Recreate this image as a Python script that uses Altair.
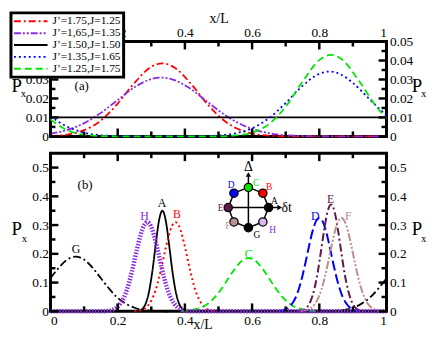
import altair as alt
import pandas as pd

FONT = "Liberation Serif"
W, HA, HB = 340, 96, 160

# ---------------- panel (a) data ----------------
a_series = ["J’=1.75,J=1.25", "J’=1,65,J=1.35", "J’=1.50,J=1.50", "J’=1.35,J=1.65", "J’=1.25,J=1.75"]
a_colors = ["#ff0000", "#8a2be2", "#000000", "#0000ff", "#00e600"]
a_dash = [[7, 3, 2, 3], [7, 2, 2, 2, 2, 2], [1, 0], [2, 3], [7, 4]]

a_red_x = [0, .05, .10, .15, .20, .25, .30, .333, .37, .42, .47, .52, .57, .62, .67, .75, 1.0]
a_red_y = [.0003, .001, .0033, .0084, .0173, .0282, .0367, .0385, .0362, .0273, .0164, .0079, .003, .0009, .0002, 0, 0]
a_pur_x = [0, .05, .10, .15, .20, .25, .30, .33, .36, .41, .46, .51, .56, .61, .66, .71, .80, 1.0]
a_pur_y = [.0014, .0034, .0070, .0124, .0192, .0259, .0302, .031, .0302, .0259, .0192, .0124, .0070, .0034, .0014, .0005, .0001, 0]
a_blk_x = [0, 1.0]
a_blk_y = [.01, .01]
a_blu_x = [0, .05, .10, .15, .20, .30, .45, .50, .55, .60, .65, .70, .75, .80, .83, .86, .90, .95, 1.0]
a_blu_y = [.0105, .0051, .0020, .0006, .0002, 0, 0, .0005, .0016, .0043, .0096, .0176, .0266, .033, .0342, .033, .0282, .0195, .011]
a_grn_x = [0, .05, .10, .15, .25, .50, .55, .60, .65, .70, .75, .80, .835, .87, .92, .97, 1.0]
a_grn_y = [.009, .0033, .0009, .0002, 0, 0, .0005, .002, .0065, .0157, .0288, .0402, .043, .0402, .0288, .0157, .0095]

a_tag_text = ["(a)"]
a_tag_x = [0.093]
a_tag_y = [0.0265]

x_major = [0, 0.2, 0.4, 0.6, 0.8, 1.0]
x_minor = [0.1, 0.3, 0.5, 0.7, 0.9]
a_y_major = [0, 0.01, 0.02, 0.03, 0.04, 0.05]
a_y_minor = [0.005, 0.015, 0.025, 0.035, 0.045]

# ---------------- panel (b) data ----------------
b_G1_x = [0, .025, .05, .075, .10, .125, .15, .175, .20, .225, .25, .275, .30, .35]
b_G1_y = [.115, .152, .18, .19, .18, .152, .115, .078, .047, .026, .0125, .005, .002, 0]
b_G2_x = [.82, .85, .875, .90, .925, .95, .975, 1.0]
b_G2_y = [0, .002, .005, .0125, .026, .047, .078, .115]
b_A_x = [.253, .263, .273, .283, .293, .303, .313, .323, .333, .343, .353, .363, .373, .383, .393, .403, .413]
b_A_y = [0, .002, .008, .026, .067, .138, .231, .316, .35, .316, .231, .138, .067, .026, .008, .002, 0]
b_B_x = [.25, .272, .282, .292, .302, .312, .322, .332, .342, .352, .362, .372, .382, .392, .402, .412, .422, .432, .442, .452, .462, .472, .49]
b_B_y = [0, .005, .011, .023, .042, .071, .112, .161, .215, .263, .298, .31, .298, .263, .215, .161, .112, .071, .042, .023, .011, .005, 0]
b_C_x = [.39, .41, .43, .45, .47, .49, .51, .53, .55, .57, .59, .61, .63, .65, .67, .69, .71, .73, .75, .77, .79]
b_C_y = [.001, .003, .007, .014, .028, .050, .080, .116, .150, .176, .185, .176, .150, .116, .080, .050, .028, .014, .007, .003, .001]
b_D_x = [.68, .70, .71, .72, .73, .74, .75, .76, .77, .78, .79, .80, .81, .82, .83, .84, .85, .86, .87, .88, .89, .90, .92]
b_D_y = [.001, .007, .014, .028, .049, .081, .124, .175, .230, .279, .313, .325, .313, .279, .230, .175, .124, .081, .049, .028, .014, .007, .001]
b_E_x = [.735, .755, .765, .775, .785, .795, .805, .815, .825, .835, .845, .855, .865, .875, .885, .895, .905, .915, .935]
b_E_y = [0, .006, .016, .038, .076, .134, .209, .287, .349, .372, .349, .287, .209, .134, .076, .038, .016, .006, 0]
b_F_x = [.746, .766, .776, .786, .796, .806, .816, .826, .836, .846, .856, .866, .876, .886, .896, .906, .916, .926, .936, .946, .956, .966, .986]
b_F_y = [.001, .006, .012, .024, .044, .075, .117, .169, .225, .276, .312, .325, .312, .276, .225, .169, .117, .075, .044, .024, .012, .006, .001]
b_H_x = [0, .15, .168, .188, .198, .208, .218, .228, .238, .248, .258, .268, .278, .288, .298, .308, .318, .328, .338, .348, .358, .368, .378, .388, .408, .43, 1.0]
b_H_y = [0, 0, .001, .007, .014, .027, .047, .077, .118, .167, .219, .265, .298, .31, .298, .265, .219, .167, .118, .077, .047, .027, .014, .007, .001, 0, 0]

b_lab_text = ["A", "B", "C", "D", "E", "F", "G", "H"]
b_lab_x = [0.332, 0.376, 0.59, 0.788, 0.834, 0.886, 0.076, 0.28]
b_lab_y = [0.375, 0.338, 0.198, 0.333, 0.39, 0.333, 0.216, 0.33]
b_lab_color = ["#000000", "#ff0000", "#00e600", "#0000ff", "#5e1a48", "#bc8f8f", "#000000", "#8a2be2"]
b_tag_text = ["(b)"]
b_tag_x = [0.103]
b_tag_y = [0.44]

b_y_major = [0, 0.1, 0.2, 0.3, 0.4, 0.5]
b_y_minor = [0.05, 0.15, 0.25, 0.35, 0.45]

# inset (phase diagram) in panel (b) data units
ins_name = ["A", "B", "C", "D", "E", "F", "G", "H"]
ins_x = [0.649, 0.632, 0.589, 0.546, 0.529, 0.546, 0.589, 0.632]
ins_y = [0.361, 0.411, 0.431, 0.411, 0.361, 0.311, 0.291, 0.311]
ins_fill = ["#000000", "#ff0000", "#00e600", "#0000ff", "#5e1a48", "#bc8f8f", "#000000", "#d9b8f0"]
ins_lab_x = [0.666, 0.651, 0.612, 0.538, 0.506, 0.528, 0.614, 0.661]
ins_lab_y = [0.384, 0.432, 0.447, 0.438, 0.361, 0.298, 0.267, 0.284]
ins_axis_x = [0.589, 0.529]
ins_axis_y = [0.291, 0.361]
ins_axis_x2 = [0.589, 0.676]
ins_axis_y2 = [0.470, 0.361]
ins_head_x = [0.589, 0.682]
ins_head_y = [0.476, 0.361]
ins_head_shape = ["triangle-up", "triangle-right"]
ins_sym_text = ["Δ", "δt"]
ins_sym_x = [0.589, 0.703]
ins_sym_y = [0.502, 0.361]


def ticks(xs, ys, xax, yax, yax_r, ymaj, ymin, H):
    main, right = [], []
    for vals, L in ((x_major, 8), (x_minor, 5)):
        base = alt.Chart(pd.DataFrame({"v": vals})).mark_rule(color="black", strokeWidth=2.5)
        main.append(base.encode(x=alt.X("v:Q", scale=xs, axis=xax), y=alt.value(0), y2=alt.value(L)))
        main.append(base.encode(x=alt.X("v:Q", scale=xs, axis=xax), y=alt.value(H), y2=alt.value(H - L)))
    for vals, L in ((ymaj, 8), (ymin, 5)):
        base = alt.Chart(pd.DataFrame({"v": vals})).mark_rule(color="black", strokeWidth=2.5)
        main.append(base.encode(y=alt.Y("v:Q", scale=ys, axis=yax), x=alt.value(0), x2=alt.value(L)))
        right.append(base.encode(y=alt.Y("v:Q", scale=ys, axis=yax_r), x=alt.value(W), x2=alt.value(W - L)))
    return main, right


def sub_x(xp, yp):
    return alt.Chart(pd.DataFrame({"t": ["x"]})).mark_text(
        font=FONT, fontSize=11, align="left", baseline="alphabetic", color="black"
    ).encode(text="t:N", x=alt.value(xp), y=alt.value(yp))


common_ax = dict(ticks=False, domain=False, grid=False, format="~g", labelFontSize=13.5,
                 labelFont=FONT, titleFont=FONT, titleFontWeight="normal", labelColor="black",
                 titleColor="black")

# ---------------- panel (a) ----------------
xs_a = alt.Scale(domain=[0, 1], nice=False)
ys_a = alt.Scale(domain=[0, 0.05], nice=False)
xax_a = alt.Axis(orient="top", values=x_major, title="x/L", titleFontSize=14, titlePadding=0,
                 labelPadding=2, **common_ax)
yax_a = alt.Axis(orient="left", values=a_y_major, title="P", titleAngle=0, titleX=-40, titleY=51,
                 titleAlign="left", titleBaseline="alphabetic", titleFontSize=19, labelPadding=2, **common_ax)
yax_a_r = alt.Axis(orient="right", values=a_y_major, title="P", titleAngle=0, titleX=25, titleY=51,
                   titleAlign="left", titleBaseline="alphabetic", titleFontSize=19, labelPadding=3, **common_ax)

rows = []
for name, xx, yy in zip(a_series, [a_red_x, a_pur_x, a_blk_x, a_blu_x, a_grn_x],
                        [a_red_y, a_pur_y, a_blk_y, a_blu_y, a_grn_y]):
    for x, y in zip(xx, yy):
        rows.append({"x": x, "y": y, "series": name})
df_a = pd.DataFrame(rows)

leg = alt.Legend(title=None, orient="none", legendX=-40, legendY=-29, fillColor="white",
                 strokeColor="black", padding=3, symbolType="M-2,0H2", symbolSize=289,
                 symbolStrokeWidth=2, symbolOffset=7.5, labelFont=FONT, labelFontSize=11.5,
                 labelColor="black", labelOffset=12.5, clipHeight=11, rowPadding=0, zindex=1)

lines_a = alt.Chart(df_a).mark_line(strokeWidth=1.8, interpolate="monotone").encode(
    x=alt.X("x:Q", scale=xs_a, axis=xax_a),
    y=alt.Y("y:Q", scale=ys_a, axis=yax_a),
    color=alt.Color("series:N", scale=alt.Scale(domain=a_series, range=a_colors), legend=leg),
    strokeDash=alt.StrokeDash("series:N", scale=alt.Scale(domain=a_series, range=a_dash), legend=leg),
)
tag_a = alt.Chart(pd.DataFrame({"t": a_tag_text, "x": a_tag_x, "y": a_tag_y})).mark_text(
    font=FONT, fontSize=13, color="black").encode(
    x=alt.X("x:Q", scale=xs_a, axis=xax_a), y=alt.Y("y:Q", scale=ys_a, axis=yax_a), text="t:N")

tm_a, tr_a = ticks(xs_a, ys_a, xax_a, yax_a, yax_a_r, a_y_major, a_y_minor, HA)
panel_a = alt.layer(
    alt.layer(lines_a, tag_a, *tm_a, sub_x(-30, 56)),
    alt.layer(*tr_a, sub_x(W + 35, 56)),
).resolve_scale(y="independent").properties(width=W, height=HA)

# ---------------- panel (b) ----------------
xs_b = alt.Scale(domain=[0, 1], nice=False)
ys_b = alt.Scale(domain=[0, 0.55], nice=False)
xax_b = alt.Axis(orient="bottom", values=x_major, title="x/L", titleFontSize=14, titleX=154, titleY=17,
                 titleBaseline="alphabetic", labelPadding=2, **common_ax)
yax_b = alt.Axis(orient="left", values=b_y_major, title="P", titleAngle=0, titleX=-40, titleY=82,
                 titleAlign="left", titleBaseline="alphabetic", titleFontSize=19, labelPadding=2, **common_ax)
yax_b_r = alt.Axis(orient="right", values=b_y_major, title="P", titleAngle=0, titleX=25, titleY=82,
                   titleAlign="left", titleBaseline="alphabetic", titleFontSize=19, labelPadding=3, **common_ax)

X = lambda f="x": alt.X(f + ":Q", scale=xs_b, axis=xax_b)
Y = lambda f="y": alt.Y(f + ":Q", scale=ys_b, axis=yax_b)

curves = [
    ([b_G1_x, b_G2_x], [b_G1_y, b_G2_y], "#000000", [8, 3, 2, 3], 1.8),
    ([b_A_x], [b_A_y], "#000000", [1, 0], 1.8),
    ([b_B_x], [b_B_y], "#ff0000", [2, 3], 2),
    ([b_C_x], [b_C_y], "#00e600", [7, 4], 1.8),
    ([b_D_x], [b_D_y], "#0000ff", [10, 4], 2),
    ([b_E_x], [b_E_y], "#5e1a48", [8, 3, 2, 3], 2),
    ([b_F_x], [b_F_y], "#bc8f8f", [8, 2, 2, 2, 2, 2], 2),
    ([b_H_x], [b_H_y], "#8a2be2", [1.5, 1.5], 4.5),
]
curve_layers = []
for xsegs, ysegs, col, dash, sw in curves:
    rows = []
    for k, (xx, yy) in enumerate(zip(xsegs, ysegs)):
        for x, y in zip(xx, yy):
            rows.append({"x": x, "y": y, "seg": k})
    curve_layers.append(
        alt.Chart(pd.DataFrame(rows)).mark_line(color=col, strokeDash=dash, strokeWidth=sw,
                                                interpolate="monotone").encode(x=X(), y=Y(), detail="seg:N"))

labels_b = alt.Chart(pd.DataFrame({"t": b_lab_text, "x": b_lab_x, "y": b_lab_y, "c": b_lab_color})).mark_text(
    font=FONT, fontSize=12).encode(x=X(), y=Y(), text="t:N", color=alt.Color("c:N", scale=None))
tag_b = alt.Chart(pd.DataFrame({"t": b_tag_text, "x": b_tag_x, "y": b_tag_y})).mark_text(
    font=FONT, fontSize=13, color="black").encode(x=X(), y=Y(), text="t:N")

oct_df = pd.DataFrame({"x": ins_x + ins_x[:1], "y": ins_y + ins_y[:1], "i": list(range(9))})
ins_oct = alt.Chart(oct_df).mark_line(color="black", strokeWidth=1.5).encode(x=X(), y=Y(), order="i:Q")
ins_ax = alt.Chart(pd.DataFrame({"x": ins_axis_x, "y": ins_axis_y, "x2": ins_axis_x2, "y2": ins_axis_y2})).mark_rule(
    color="black", strokeWidth=1.5).encode(x=X(), y=Y(), x2="x2:Q", y2="y2:Q")
ins_head = alt.Chart(pd.DataFrame({"x": ins_head_x, "y": ins_head_y, "s": ins_head_shape})).mark_point(
    filled=True, color="black", size=30, opacity=1).encode(x=X(), y=Y(), shape=alt.Shape("s:N", scale=None))
ins_pts = alt.Chart(pd.DataFrame({"x": ins_x, "y": ins_y, "f": ins_fill})).mark_circle(
    size=70, stroke="black", strokeWidth=1.3, opacity=1).encode(x=X(), y=Y(), fill=alt.Fill("f:N", scale=None))
ins_lab = alt.Chart(pd.DataFrame({"t": ins_name, "x": ins_lab_x, "y": ins_lab_y, "c": b_lab_color})).mark_text(
    font=FONT, fontSize=9.5).encode(x=X(), y=Y(), text="t:N", color=alt.Color("c:N", scale=None))
ins_sym = alt.Chart(pd.DataFrame({"t": ins_sym_text, "x": ins_sym_x, "y": ins_sym_y})).mark_text(
    font=FONT, fontSize=14, color="black").encode(x=X(), y=Y(), text="t:N")

tm_b, tr_b = ticks(xs_b, ys_b, xax_b, yax_b, yax_b_r, b_y_major, b_y_minor, HB)
panel_b = alt.layer(
    alt.layer(*curve_layers, labels_b, tag_b, ins_oct, ins_ax, ins_head, ins_pts, ins_lab, ins_sym,
              *tm_b, sub_x(-29, 90)),
    alt.layer(*tr_b, sub_x(W + 35, 90)),
).resolve_scale(y="independent").properties(width=W, height=HB)

chart = alt.vconcat(panel_a, panel_b, spacing=17, bounds="flush").resolve_scale(
    x="independent", y="independent", color="independent", strokeDash="independent"
).properties(padding=0).configure_view(stroke="black", strokeWidth=3).configure_axis(
    labelFont=FONT, titleFont=FONT, labelColor="black", titleColor="black", titleFontWeight="normal"
).configure_legend(strokeWidth=3)

chart.save("out.html", embed_options={"renderer": "svg", "actions": False})
